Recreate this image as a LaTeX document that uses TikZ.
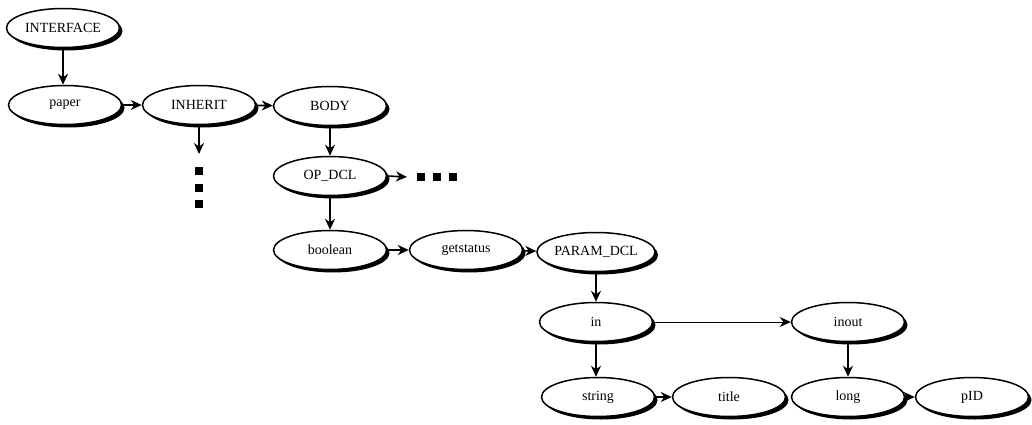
\documentclass[tikz,border=0pt]{standalone}
\usepackage{fontspec}
\setmainfont{Liberation Serif}
\usetikzlibrary{shapes.geometric,arrows.meta,shadows}

\tikzset{
  term/.style={ellipse, draw=black, line width=1.5pt, fill=white,
    minimum width=113pt, minimum height=39pt, inner sep=0pt,
    font=\fontsize{14}{16}\selectfont,
    drop shadow={shadow xshift=3pt, shadow yshift=-3pt, opacity=1, fill=black}},
  link/.style={line width=1.6pt, -{Stealth[length=11pt,width=10pt]}},
  thinlink/.style={line width=0.9pt, -{Stealth[length=11pt,width=10pt]}},
  more/.style={rectangle, fill=black, minimum size=8pt, inner sep=0pt}
}

\begin{document}
\begin{tikzpicture}[x=1pt,y=1pt]
  \useasboundingbox (0,0) rectangle (1032,-425);

  % syntax tree nodes
  \node[term] (interface) at (63,-28)  {INTERFACE};
  \node[term] (paper)     at (65,-105) {paper};
  \node[term] (inherit)   at (199,-105) {INHERIT};
  \node[term] (body)      at (330,-106) {BODY};
  \node[term] (opdcl)     at (330,-176) {OP\_DCL};
  \node[term] (boolean)   at (330,-250) {boolean};
  \node[term] (getstatus) at (466,-250) {getstatus};
  \node[term] (paramdcl)  at (596,-252) {PARAM\_DCL};
  \node[term] (in)        at (596,-322) {in};
  \node[term] (inout)     at (848,-322) {inout};
  \node[term] (string)    at (598,-397) {string};
  \node[term] (title)     at (729,-397) {title};
  \node[term] (long)      at (848,-397) {long};
  \node[term] (pid)       at (972,-397) {pID};

  % elided subtrees
  \coordinate (inhend) at (199,-154);
  \node[more] (v1) at (199,-171) {};
  \node[more] (v2) at (199,-188) {};
  \node[more] (v3) at (199,-204) {};
  \coordinate (opend) at (407,-177);
  \node[more] (h1) at (421,-177) {};
  \node[more] (h2) at (437,-177) {};
  \node[more] (h3) at (453,-177) {};

  % edges
  \draw[link] (interface.south) -- (interface.south |- paper.north);
  \draw[link] (paper) -- (inherit);
  \draw[link] (inherit) -- (body);
  \draw[link] (inherit.south) -- (inhend);
  \draw[link] (body) -- (opdcl);
  \draw[link] (opdcl.east) -- (opend);
  \draw[link] (opdcl) -- (boolean);
  \draw[link] (boolean) -- (getstatus);
  \draw[link] (getstatus) -- (paramdcl);
  \draw[link] (paramdcl) -- (in);
  \draw[thinlink] (in) -- (inout);
  \draw[link] (in.south) -- (in.south |- string.north);
  \draw[link] (string) -- (title);
  \draw[link] (inout) -- (long);
  \draw[link] (long) -- (pid);
\end{tikzpicture}
\end{document}
